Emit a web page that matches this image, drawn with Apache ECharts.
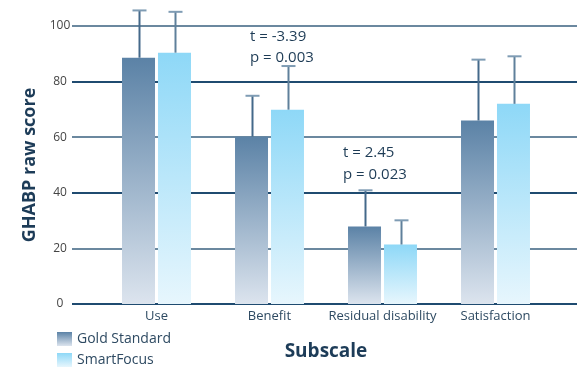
<!DOCTYPE html>
<html><head><meta charset="utf-8">
<script src="https://cdn.jsdelivr.net/npm/echarts@6/dist/echarts.min.js"></script>
<style>html,body{margin:0;padding:0;background:#fff}#c{width:577px;height:368px}</style>
</head><body><div id="c"></div>
<script>
const categories = ['Use', 'Benefit', 'Residual disability', 'Satisfaction'];
const seriesNames = ['Gold Standard', 'SmartFocus'];
const goldMeans = [88.6, 60.2, 27.9, 66.0];
const goldUpper = [105.6, 74.9, 40.9, 87.9];
const smartMeans = [90.4, 69.9, 21.4, 72.0];
const smartUpper = [105.1, 85.6, 30.1, 89.1];
const yTicks = [0, 20, 40, 60, 80, 100];
const annotations = [
  ['t = -3.39', 'p = 0.003'],
  ['t = 2.45', 'p = 0.023']
];

const FONT = 'Open Sans';
const chart = echarts.init(document.getElementById('c'), null, {renderer: 'canvas'});

const goldGrad = new echarts.graphic.LinearGradient(0, 0, 0, 1, [
  {offset: 0, color: '#5b82a6'}, {offset: 1, color: '#dce4ee'}]);
const smartGrad = new echarts.graphic.LinearGradient(0, 0, 0, 1, [
  {offset: 0, color: '#8ed8f7'}, {offset: 1, color: '#e7f6fd'}]);

function errSeries(means, upper, sign, stemColor) {
  return {
    type: 'custom', xAxisIndex: 1, yAxisIndex: 1, z: 3, silent: true,
    data: categories.map((c, i) => [i, means[i], upper[i]]),
    renderItem(params, api) {
      const band = api.size([1, 0])[0];
      const off = sign * band * 18 / 113;
      const p0 = api.coord([api.value(0), api.value(1)]);
      const p1 = api.coord([api.value(0), api.value(2)]);
      const x = Math.round(p0[0] + off) + 0.5;
      return {type: 'group', children: [
        {type: 'line', shape: {x1: x, y1: p0[1], x2: x, y2: p1[1]}, style: {stroke: stemColor, lineWidth: 2}},
        {type: 'line', shape: {x1: x - 7, y1: p1[1], x2: x + 7, y2: p1[1]}, style: {stroke: '#7f9cb4', lineWidth: 2}}
      ]};
    }
  };
}

const legendStyle = {
  orient: 'vertical', left: 57, padding: 0,
  itemWidth: 15, itemHeight: 14, icon: 'rect',
  textStyle: {color: '#2e4a62', fontSize: 14, fontFamily: FONT}
};

const annFont = '15px "Open Sans"';

const option = {
  animation: false,
  textStyle: {fontFamily: FONT},
  grid: [
    {left: 72, right: 0, top: 26, bottom: 64},
    {left: 100, right: 25, top: 26, bottom: 64}
  ],
  xAxis: [
    {type: 'value', gridIndex: 0, show: false, min: 0, max: 1},
    {type: 'category', gridIndex: 1, data: categories,
     axisLine: {show: false}, axisTick: {show: false},
     axisLabel: {color: '#2e4a62', fontSize: 13, margin: 6, interval: 0, fontFamily: FONT},
     name: 'Subscale', nameLocation: 'middle', nameGap: 38,
     nameTextStyle: {color: '#1d3c58', fontSize: 19, fontWeight: 'bold', fontFamily: FONT}}
  ],
  yAxis: [
    {type: 'value', gridIndex: 0, min: yTicks[0], max: yTicks[yTicks.length - 1], interval: 20,
     axisLine: {show: false}, axisTick: {show: false},
     axisLabel: {color: '#444', fontSize: 12, margin: 12, align: 'center', fontFamily: FONT},
     splitLine: {show: true, lineStyle: {color: ['#1f4b70', '#6b889f'], width: 2}},
     name: 'GHABP raw score', nameLocation: 'middle', nameGap: 32,
     nameTextStyle: {color: '#1d3c58', fontSize: 18, fontWeight: 'bold', fontFamily: FONT}},
    {type: 'value', gridIndex: 1, min: 0, max: 100, show: false}
  ],
  legend: [
    Object.assign({data: [seriesNames[0]], top: 332}, legendStyle),
    Object.assign({data: [seriesNames[1]], top: 353}, legendStyle)
  ],
  series: [
    {name: seriesNames[0], type: 'bar', xAxisIndex: 1, yAxisIndex: 1, data: goldMeans,
     barWidth: 33, barGap: '9%', itemStyle: {color: goldGrad}, z: 2},
    {name: seriesNames[1], type: 'bar', xAxisIndex: 1, yAxisIndex: 1, data: smartMeans,
     barWidth: 33, barGap: '9%', itemStyle: {color: smartGrad}, z: 2},
    errSeries(goldMeans, goldUpper, -1, '#44698a'),
    errSeries(smartMeans, smartUpper, 1, '#5f809b')
  ],
  graphic: [
    {type: 'text', left: 250, top: 29, style: {text: annotations[0][0], fill: '#1d3b55', font: annFont}},
    {type: 'text', left: 250, top: 50, style: {text: annotations[0][1], fill: '#1d3b55', font: annFont}},
    {type: 'text', left: 343, top: 145, style: {text: annotations[1][0], fill: '#1d3b55', font: annFont}},
    {type: 'text', left: 343, top: 167, style: {text: annotations[1][1], fill: '#1d3b55', font: annFont}}
  ]
};
chart.setOption(option);
</script></body></html>
